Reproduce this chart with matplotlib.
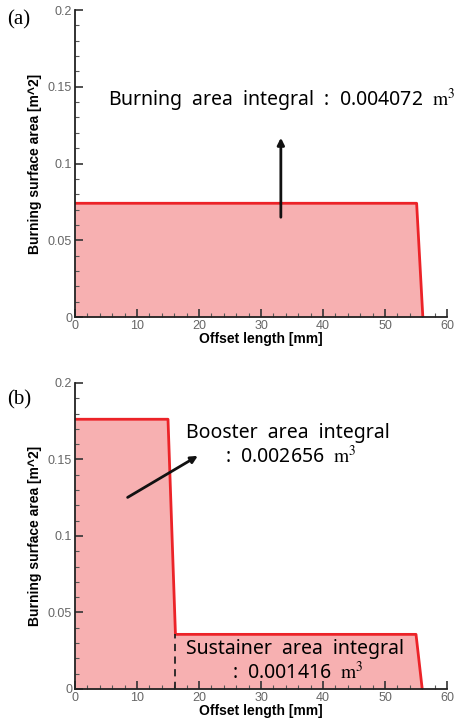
import matplotlib as mpl
import matplotlib.pyplot as plt
from matplotlib.ticker import MultipleLocator

mpl.rcParams['mathtext.fontset'] = 'stix'

# panel (a): single grain
x_a = [0, 55.1, 56.1]
y_a = [0.0741, 0.0741, 0.0]

# panel (b): booster + sustainer
x_b = [0, 15.0, 16.2, 55.0, 56.0]
y_b = [0.1763, 0.1763, 0.0357, 0.0357, 0.0]
split_x = 16.2
split_y = 0.0357

x_ticks = [0, 10, 20, 30, 40, 50, 60]
y_ticks = [0, 0.05, 0.1, 0.15, 0.2]
y_ticklabels = ['0', '0.05', '0.1', '0.15', '0.2']

fill_c = '#f7b0b1'
line_c = '#ec2328'
txt_font = 'Noto Sans'
txt_size = 14

fig = plt.figure(figsize=(4.54, 7.21), dpi=100)
ax_a = fig.add_axes([0.1652, 0.5603, 0.8194, 0.4258])
ax_b = fig.add_axes([0.1652, 0.0444, 0.8194, 0.4244])


def style_axes(ax):
	ax.set_xlim(0, 60)
	ax.set_ylim(0, 0.2)
	ax.spines['top'].set_visible(False)
	ax.spines['right'].set_visible(False)
	for s in ('left', 'bottom'):
		ax.spines[s].set_linewidth(1.3)
		ax.spines[s].set_color('#222222')
	ax.set_xticks(x_ticks)
	ax.set_yticks(y_ticks)
	ax.set_yticklabels(y_ticklabels)
	ax.xaxis.set_minor_locator(MultipleLocator(2))
	ax.yaxis.set_minor_locator(MultipleLocator(0.01))
	ax.tick_params(which='major', direction='in', length=6, width=1.2, color='#333333',
		labelsize=9, labelcolor='#666666', pad=2)
	ax.tick_params(which='minor', direction='in', length=3, width=0.8, color='#555555')
	for lab in ax.get_xticklabels() + ax.get_yticklabels():
		lab.set_family('Liberation Sans')
	ax.set_xlabel('Offset length [mm]', fontsize=10, fontweight='bold',
		family='Liberation Sans', labelpad=0)
	ax.set_ylabel('Burning surface area [m^2]', fontsize=10, fontweight='bold',
		family='Liberation Sans', labelpad=4)


# (a)
ax_a.fill_between(x_a, y_a, 0, color=fill_c, lw=0)
ax_a.plot(x_a, y_a, color=line_c, lw=2)
style_axes(ax_a)
ax_a.annotate('', xy=(33.2, 0.1186), xytext=(33.2, 0.0632),
	arrowprops=dict(arrowstyle='-|>', color='#111111', lw=2, mutation_scale=10))
ax_a.text(5.3, 0.1414, r'Burning  area  integral  :  0.004072  $\mathrm{m}^3$', fontsize=txt_size,
	family=txt_font, va='center', ha='left', clip_on=False)
fig.text(0.015, 0.972, '(a)', fontsize=15, family='Liberation Serif', va='center')

# (b)
ax_b.fill_between(x_b, y_b, 0, color=fill_c, lw=0)
ax_b.plot(x_b, y_b, color=line_c, lw=2)
ax_b.plot([split_x, split_x], [0, split_y], color='#222222', lw=1.3, ls=(0, (4, 3)))
style_axes(ax_b)
ax_b.annotate('', xy=(20.2, 0.1533), xytext=(8.1, 0.1243),
	arrowprops=dict(arrowstyle='-|>', color='#111111', lw=2, mutation_scale=10))
ax_b.text(34.4, 0.1675, 'Booster  area  integral', fontsize=txt_size, family=txt_font,
	ha='center', va='center')
ax_b.text(34.8, 0.1518, r':  0.002656  $\mathrm{m}^3$', fontsize=txt_size, family=txt_font,
	ha='center', va='center')
ax_b.text(35.5, 0.0261, 'Sustainer  area  integral', fontsize=txt_size, family=txt_font,
	ha='center', va='center')
ax_b.text(35.9, 0.0105, r':  0.001416  $\mathrm{m}^3$', fontsize=txt_size, family=txt_font,
	ha='center', va='center')
fig.text(0.015, 0.445, '(b)', fontsize=15, family='Liberation Serif', va='center')

fig.savefig('out.png', dpi=100)
